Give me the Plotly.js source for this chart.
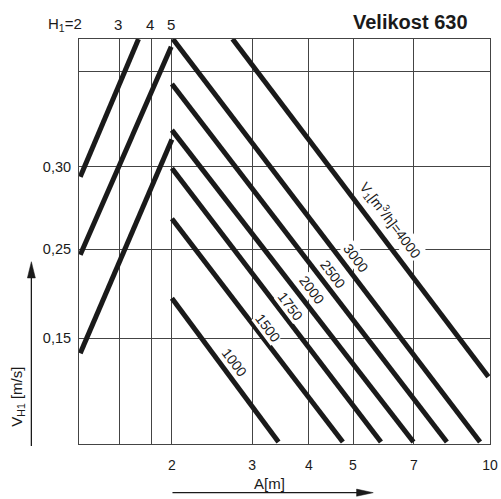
<!DOCTYPE html>
<html><head><meta charset="utf-8">
<script src="https://cdn.plot.ly/plotly-3.0.1.min.js"></script>
<style>html,body{margin:0;padding:0;background:#fff}#chart{width:501px;height:499px}</style>
</head><body><div id="chart"></div>
<script>
// Bottom axis: A [m]
const aTickVals = [2, 3, 4, 5, 6.8, 10];
const aTickText = ["2", "3", "4", "5", "7", "10"];
// Top axis: H1 grid
const h1TickVals = [1.25, 1.534, 1.801, 2];
const h1TickText = ["H<sub>1</sub>=2", "3", "4", "5"];
// Vertical scale (fraction of chart height) of V_H1 ticks
const vTickVals = [0.261, 0.481, 0.685, 0.919];
const vTickText = ["0,15", "0,25", "0,30", " "];

// H1 lines (rising)
const h1LineA = [[1.258, 1.689], [1.258, 1.993], [1.258, 2.0]];
const h1LineV = [[0.660, 1.0], [0.467, 0.981], [0.224, 0.752]];

// Flow lines V [m3/h] (falling)
const flowNames = ["1000", "1500", "1750", "2000", "2500", "3000", "4000"];
const flowA = [[2.0, 3.43], [2.0, 4.75], [2.0, 5.76], [2.0, 6.79], [2.0, 8.04], [2.01, 9.51], [2.718, 9.92]];
const flowV = [[0.360, 0.005], [0.556, 0.005], [0.681, 0.005], [0.775, 0.005], [0.889, 0.005], [1.0, 0.005], [1.0, 0.166]];
const labelText = ["1000", "1500", "1750", "2000", "2500", "3000", "V<sub>1</sub>[m<sup>3</sup>/h]=4000"];
const labelA = [2.74, 3.25, 3.64, 4.06, 4.51, 5.07, 6.03];
const labelV = [0.2025, 0.286, 0.341, 0.380, 0.419, 0.4585, 0.553];

const FONT = "Liberation Sans, Arial, sans-serif";
const INK = "#1a1a1a";
const GRID = "#444";

const traces = [];
h1LineA.forEach((a, i) => traces.push({
  x: a, y: h1LineV[i], type: "scatter", mode: "lines",
  line: {color: INK, width: 5}, hoverinfo: "skip", showlegend: false
}));
flowA.forEach((a, i) => traces.push({
  x: a, y: flowV[i], type: "scatter", mode: "lines", name: flowNames[i],
  line: {color: INK, width: 5}, hoverinfo: "skip", showlegend: false
}));

const annotations = [];
labelText.forEach((t, i) => annotations.push({
  x: Math.log10(labelA[i]), y: labelV[i], xref: "x", yref: "y",
  xanchor: "center", yanchor: "middle",
  text: t, showarrow: false, textangle: 53, bgcolor: "#fff", borderpad: 0,
  font: {family: FONT, size: 14, color: INK}
}));
h1TickVals.forEach((v, i) => annotations.push({
  x: Math.log10(v), y: 1.037, xref: "x", yref: "paper",
  text: h1TickText[i], showarrow: false,
  xanchor: i === 0 ? "right" : "center", yanchor: "middle",
  xshift: i === 0 ? 5 : -1,
  font: {family: FONT, size: 15, color: INK}
}));
annotations.push({
  x: 0.951, y: 1.043, xref: "paper", yref: "paper", xanchor: "right", yanchor: "middle",
  text: "<b>Velikost 630</b>", showarrow: false,
  font: {family: FONT, size: 20, color: INK}
});
annotations.push({
  x: -0.1516, y: 0.116, xref: "paper", yref: "paper", xanchor: "center", yanchor: "middle",
  textangle: -90,
  text: "V<sub>H1</sub> [m/s]", showarrow: false,
  font: {family: FONT, size: 15, color: INK}
});
annotations.push({
  x: 0.463, y: -0.097, xref: "paper", yref: "paper", xanchor: "center", yanchor: "middle",
  text: "A[m]", showarrow: false,
  font: {family: FONT, size: 15, color: INK}
});

const shapes = [
  {type: "line", xref: "paper", yref: "paper", x0: 0.2274, x1: 0.69, y0: -0.1202, y1: -0.1202, line: {color: INK, width: 1.3}},
  {type: "path", xref: "paper", yref: "paper", path: "M0.7159,-0.1202 L0.6754,-0.1114 L0.6754,-0.1290 Z", fillcolor: INK, line: {color: INK, width: 0.5}},
  {type: "line", xref: "paper", yref: "paper", x0: -0.1159, x1: -0.1159, y0: -0.005, y1: 0.42, line: {color: INK, width: 1.3}},
  {type: "path", xref: "paper", yref: "paper", path: "M-0.1159,0.4501 L-0.1256,0.4099 L-0.1062,0.4099 Z", fillcolor: INK, line: {color: INK, width: 0.5}}
];

const layout = {
  width: 501, height: 499,
  margin: {l: 79, r: 11, t: 39, b: 55, pad: 0},
  paper_bgcolor: "#fff", plot_bgcolor: "#fff",
  font: {family: FONT, color: INK},
  showlegend: false,
  xaxis: {
    type: "log", range: [Math.log10(1.25), 1], fixedrange: true,
    tickmode: "array", tickvals: aTickVals, ticktext: aTickText,
    showgrid: true, gridcolor: GRID, gridwidth: 1,
    showline: true, mirror: true, linecolor: GRID, linewidth: 1,
    zeroline: false, ticks: "", ticklabelstandoff: 8,
    tickfont: {family: FONT, size: 14, color: INK}
  },
  xaxis2: {
    type: "log", range: [Math.log10(1.25), 1], overlaying: "x", side: "top",
    tickmode: "array", tickvals: h1TickVals, showticklabels: false,
    showgrid: true, gridcolor: GRID, gridwidth: 1, zeroline: false, ticks: ""
  },
  yaxis: {
    range: [0, 1], fixedrange: true,
    tickmode: "array", tickvals: vTickVals, ticktext: vTickText,
    showgrid: true, gridcolor: GRID, gridwidth: 1,
    showline: true, mirror: true, linecolor: GRID, linewidth: 1,
    zeroline: false, ticks: "", ticklabelstandoff: 4,
    tickfont: {family: FONT, size: 14.5, color: INK}
  },
  annotations: annotations,
  shapes: shapes
};
// invisible trace to activate the top H1 axis
traces.push({x: [2], y: [0.5], xaxis: "x2", type: "scatter", mode: "markers", marker: {opacity: 0}, hoverinfo: "skip", showlegend: false});

Plotly.newPlot("chart", traces, layout, {staticPlot: true, displayModeBar: false});
</script>
</body></html>
